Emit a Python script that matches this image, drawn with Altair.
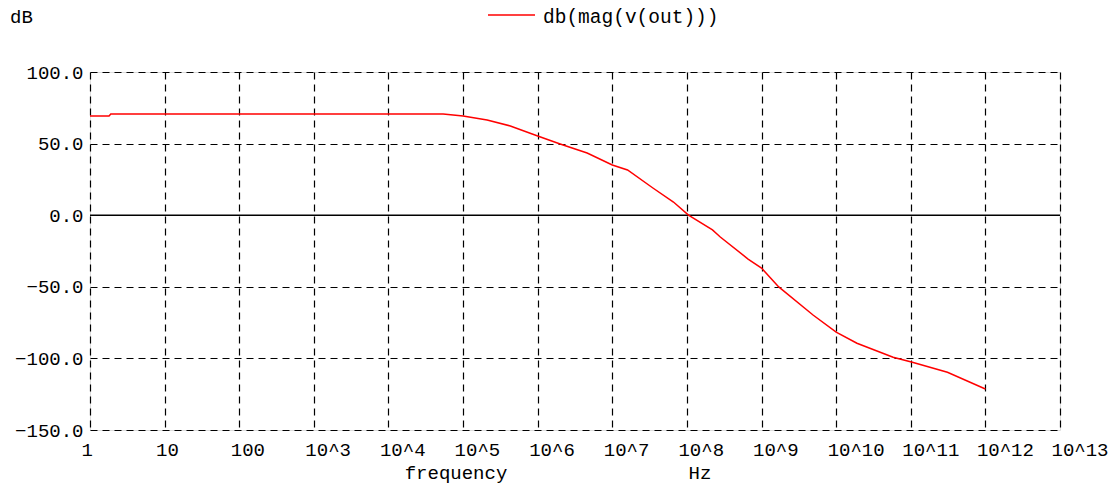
import altair as alt
import pandas as pd

# frequency (Hz) and magnitude (dB)
freq = [1, 1.8, 1.9, 10, 100, 1e3, 1e4, 5.4e4, 1.0e5, 2.1e5, 4.3e5, 1.0e6, 2.0e6,
        4.6e6, 1.0e7, 1.6e7, 3.5e7, 6.6e7, 1.05e8, 2.2e8, 2.8e8, 6.6e8, 1.0e9,
        1.7e9, 4.9e9, 1.0e10, 1.9e10, 5.8e10, 1.05e11, 3.1e11, 1.0e12]
db = [69.3, 69.3, 70.7, 70.7, 70.7, 70.7, 70.7, 70.7, 69.3, 66.5, 62.3, 55.3, 49.7,
      43.4, 35.1, 31.6, 19.0, 9.2, 0.1, -10.3, -15.2, -30.6, -36.9,
      -50.1, -69.7, -81.6, -89.4, -99.2, -102.7, -109.7, -121.4]

x_ticks = [1, 10, 100, 1e3, 1e4, 1e5, 1e6, 1e7, 1e8, 1e9, 1e10, 1e11, 1e12, 1e13]
y_ticks = [-150, -100, -50, 0, 50, 100]

series_name = "db(mag(v(out)))"
y_title = "dB"
x_title = "frequency"
x_unit = "Hz"

FONT = "Liberation Mono"
FS = 19

df = pd.DataFrame({"freq": freq, "db": db})

x_enc = alt.X(
    "freq:Q",
    scale=alt.Scale(type="log", domain=[1, 1e13], nice=False),
    axis=alt.Axis(
        values=x_ticks, grid=True, gridDash=[7, 5], gridColor="black", gridOpacity=1,
        gridWidth=1.2, domain=False, ticks=False, labelFont=FONT, labelFontSize=FS,
        labelColor="black", labelPadding=10, title=None, labelFlush=False,
        labelOverlap=False, labelAlign="left", labelOffset=-9,
        labelExpr="datum.value < 2 ? '1' : datum.value < 20 ? '10' : datum.value < 200 ? '100' : '10^' + round(log(datum.value)/LN10)",
    ),
)
y_enc = alt.Y(
    "db:Q",
    scale=alt.Scale(domain=[-150, 100], nice=False),
    axis=alt.Axis(
        values=y_ticks, grid=True, gridDash=[7, 5], gridColor="black", gridOpacity=1,
        gridWidth=1.2, domain=False, ticks=False, labelFont=FONT, labelFontSize=FS,
        labelColor="black", labelPadding=7, format=".1f", title=None, labelFlush=False,
        labelOverlap=False,
    ),
)

line = alt.Chart(df).mark_line(color="#ff0000", strokeWidth=1.5).encode(x=x_enc, y=y_enc)

zero = alt.Chart(pd.DataFrame({"z": [0]})).mark_rule(color="black", strokeWidth=1.6).encode(
    y=alt.Y("z:Q")
)

def label(txt, x, y, align="left", size=FS):
    return alt.Chart(pd.DataFrame({"t": [txt]})).mark_text(
        font=FONT, fontSize=size, color="black", align=align, baseline="alphabetic"
    ).encode(text="t:N", x=alt.value(x), y=alt.value(y))

legend_line = alt.Chart(pd.DataFrame({"t": [series_name]})).mark_rule(
    color="#ff0000", strokeWidth=1.5
).encode(x=alt.value(398), x2=alt.value(445), y=alt.value(-57))

chart = alt.layer(
    zero,
    line,
    legend_line,
    label(series_name, 453, -49, size=19.5),
    label(y_title, -80, -49),
    label(x_title, 366, 407, "center"),
    label(x_unit, 610, 407, "center"),
).properties(
    width=970,
    height=358,
    autosize=alt.AutoSizeParams(type="none"),
    padding={"left": 82, "top": 64, "right": 48, "bottom": 55},
).configure_view(stroke=None).configure(background="white")

chart.save("out.html", embed_options={"renderer": "svg", "actions": False})
